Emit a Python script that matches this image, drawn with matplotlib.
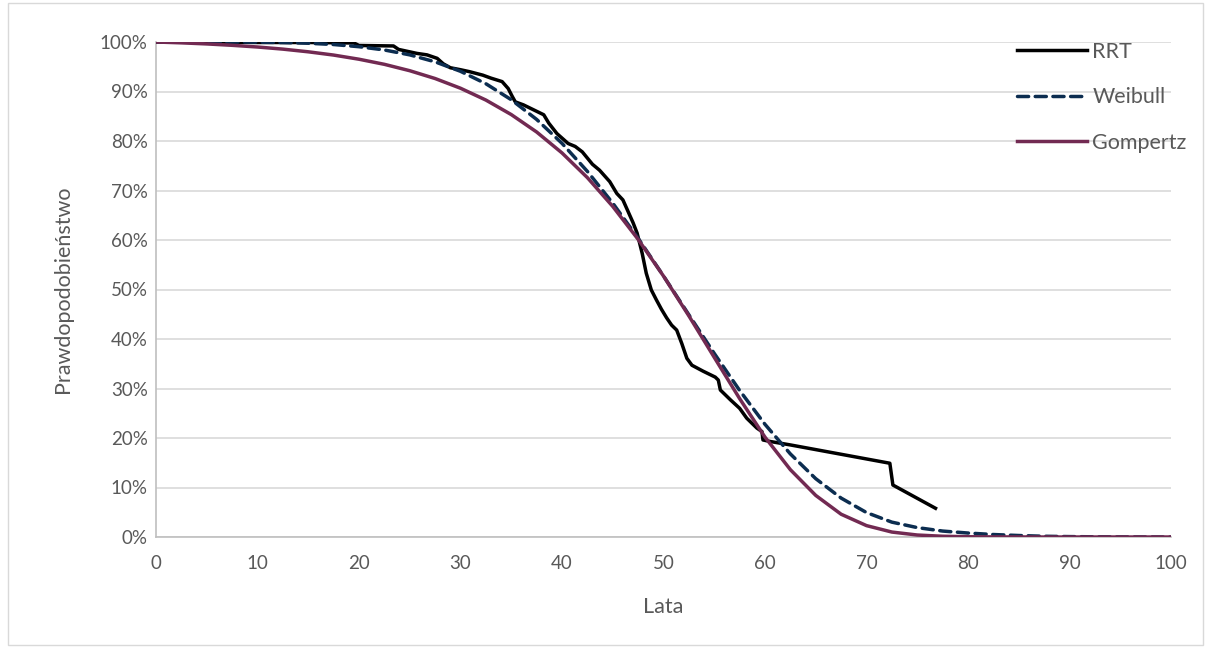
import matplotlib
matplotlib.use("Agg")
import matplotlib.pyplot as plt
from matplotlib.ticker import FuncFormatter
from matplotlib.patches import Rectangle

plt.rcParams['font.family'] = ['Lato', 'DejaVu Sans']

# RRT empirical curve (years, %)
rrt_t = [0, 5, 10, 15, 19.5, 20, 23.4, 23.9, 25.7, 26.7, 27.7, 28.3, 29.0, 30.0, 30.9,
         32.2, 33.0, 34.1, 34.7, 35.1, 35.4, 36.2, 37.0, 38.2, 38.7, 39.5, 40.6, 41.3,
         42.0, 42.4, 43.0, 43.7, 44.7, 45.4, 46.0, 46.5, 47.0, 47.4, 47.9, 48.3, 48.8,
         49.3, 49.8, 50.3, 50.8, 51.3, 51.8, 52.3, 52.8, 53.9, 55.1, 55.4, 55.6, 56.6,
         57.5, 58.2, 59.2, 59.7, 59.8, 60.5, 62.5, 72.3, 72.6, 76.8]
rrt_s = [100, 100, 99.9, 99.9, 99.8, 99.3, 99.2, 98.5, 97.7, 97.4, 96.7, 95.6, 94.8, 94.4, 94.0,
         93.3, 92.7, 92.0, 90.6, 89.0, 87.9, 87.3, 86.5, 85.3, 83.6, 81.5, 79.5, 78.9,
         77.8, 76.8, 75.3, 74.1, 71.8, 69.4, 68.1, 65.8, 63.5, 61.4, 57.3, 53.3, 49.9,
         47.9, 46.0, 44.3, 42.8, 41.8, 39.1, 36.1, 34.7, 33.5, 32.3, 31.7, 29.7, 27.7,
         26.0, 24.0, 22.0, 21.3, 19.6, 19.3, 18.6, 14.9, 10.5, 5.8]

# Fitted curves, read every 2.5 years
fit_t = [0, 2.5, 5, 7.5, 10, 12.5, 15, 17.5, 20, 22.5, 25, 27.5, 30, 32.5, 35, 37.5, 40,
         42.5, 45, 47.5, 50, 52.5, 55, 57.5, 60, 62.5, 65, 67.5, 70, 72.5, 75, 77.5, 80,
         82.5, 85, 87.5, 90, 92.5, 95, 97.5, 100]
weibull_s = [100, 100, 100, 99.99, 99.96, 99.89, 99.75, 99.49, 99.05, 98.39, 97.40, 95.99,
             94.08, 91.57, 88.34, 84.36, 79.53, 73.86, 67.45, 60.35, 52.73, 44.89, 37.09,
             29.61, 22.76, 16.78, 11.78, 7.86, 4.94, 3.0, 1.9, 1.2, 0.8, 0.5, 0.3, 0.15,
             0.08, 0.04, 0.02, 0.01, 0]
gompertz_s = [100, 99.83, 99.61, 99.33, 98.99, 98.56, 98.02, 97.36, 96.52, 95.49, 94.20,
              92.62, 90.66, 88.27, 85.34, 81.82, 77.59, 72.60, 66.78, 60.13, 52.71, 44.67,
              36.29, 27.96, 20.17, 13.6, 8.4, 4.6, 2.3, 1.0, 0.4, 0.15, 0.05, 0.02, 0.01,
              0, 0, 0, 0, 0, 0]

x_ticks = list(range(0, 101, 10))
y_ticks = list(range(0, 101, 10))

W, H = 1206, 648
fig = plt.figure(figsize=(W / 100, H / 100), dpi=100)
ax = fig.add_axes([156 / W, 1 - 537 / H, (1171 - 156) / W, (537 - 42) / H])

text_col = '#595959'
grid_col = '#d9d9d9'

ax.plot(rrt_t, rrt_s, color='black', lw=2.5, label='RRT', solid_joinstyle='round', zorder=3)
ax.plot(fit_t, weibull_s, color='#0c2d50', lw=2.5, ls=(0, (3.2, 1.9)), label='Weibull',
        dash_capstyle='round', zorder=4)
ax.plot(fit_t, gompertz_s, color='#722a52', lw=2.5, label='Gompertz', zorder=5)

ax.set_xlim(0, 100)
ax.set_ylim(0, 100)
ax.set_xticks(x_ticks)
ax.set_yticks(y_ticks)
ax.yaxis.set_major_formatter(FuncFormatter(lambda v, p: f"{int(v)}%"))
ax.grid(axis='y', color=grid_col, lw=1.2, zorder=0)
ax.set_axisbelow(True)
for s in ['top', 'right']:
    ax.spines[s].set_visible(False)
ax.spines['left'].set_color('#bfbfbf')
ax.spines['bottom'].set_color('#bfbfbf')
ax.spines['left'].set_linewidth(1.2)
ax.spines['bottom'].set_linewidth(1.2)
ax.tick_params(length=0, labelsize=13.5, colors=text_col)
ax.tick_params(axis='y', pad=6)
ax.tick_params(axis='x', pad=13)

ax.set_xlabel('Lata', fontsize=15.5, color=text_col, labelpad=18)
ax.set_ylabel('Prawdopodobieństwo', fontsize=15.5, color=text_col, labelpad=19)

leg = ax.legend(loc='upper left', bbox_to_anchor=(1017 / W, 1 - 42 / H),
                bbox_transform=fig.transFigure, frameon=False, fontsize=15.5,
                handlelength=3.25, handletextpad=0.25, labelspacing=1.18,
                borderpad=0, borderaxespad=0)
for t in leg.get_texts():
    t.set_color(text_col)

fig.patches.append(Rectangle((8 / W, 3 / H), (1203 - 8) / W, (645 - 3) / H,
                             transform=fig.transFigure, fill=False, edgecolor='#d9d9d9', lw=1))

fig.savefig('out.png', dpi=100, facecolor='white')
